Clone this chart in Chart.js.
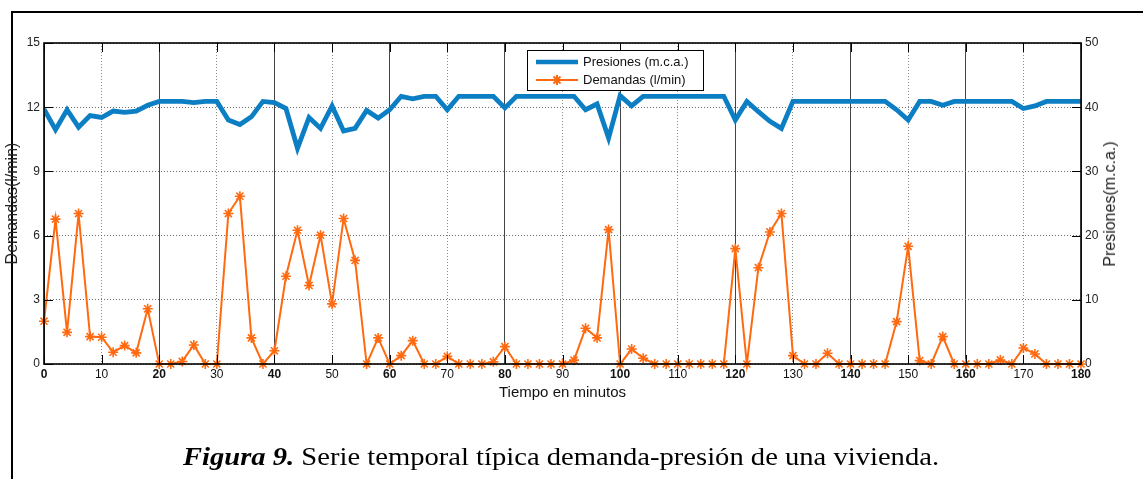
<!DOCTYPE html>
<html>
<head>
<meta charset="utf-8">
<script src="https://cdn.jsdelivr.net/npm/chart.js@4/dist/chart.umd.min.js"></script>
<style>
  body { margin: 0; background: #fff; }
  #hoja { position: relative; width: 1143px; height: 479px; overflow: hidden; }
  #marco { position: absolute; left: 11px; top: 11px; width: 1140px; height: 480px;
           border-left: 2px solid #000; border-top: 2px solid #000; }
  #grafico { position: absolute; left: 0; top: 0; }
  #tituloDer { position: absolute; left: 1110px; top: 204px; transform: translate(-50%, -50%) rotate(-90deg);
               font: 16px "Liberation Sans", Arial, sans-serif; color: #222; white-space: nowrap; }
  #pie { position: absolute; left: 0; top: 442px; width: 1122px; text-align: center;
         font: 26px "Liberation Serif", "Times New Roman", serif; color: #000; white-space: nowrap;
         transform: scaleX(1.1); transform-origin: 561px 0; }
</style>
</head>
<body>
<div id="hoja">
  <div id="marco"></div>
  <canvas id="grafico" width="1143" height="479"></canvas>
  <div id="tituloDer">Presiones(m.c.a.)</div>
  <div id="pie"><b><i>Figura 9.</i></b> Serie temporal típica demanda-presión de una vivienda.</div>
</div>
<script>
// minutos (eje x)
let minutos = [0, 2, 4, 6, 8, 10, 12, 14, 16, 18, 20, 22, 24, 26, 28, 30, 32, 34, 36, 38,
  40, 42, 44, 46, 48, 50, 52, 54, 56, 58, 60, 62, 64, 66, 68, 70, 72, 74, 76, 78,
  80, 82, 84, 86, 88, 90, 92, 94, 96, 98, 100, 102, 104, 106, 108, 110, 112, 114, 116, 118,
  120, 122, 124, 126, 128, 130, 132, 134, 136, 138, 140, 142, 144, 146, 148, 150, 152, 154, 156, 158,
  160, 162, 164, 166, 168, 170, 172, 174, 176, 178, 180]

// demandas en l/min (eje izquierdo)
let demandas = [2.0, 6.77, 1.48, 7.03, 1.28, 1.25, 0.55, 0.86, 0.52, 2.58, 0, 0, 0.12, 0.89, 0, 0, 7.03, 7.84, 1.22, 0,
  0.62, 4.1, 6.25, 3.67, 6.02, 2.81, 6.8, 4.84, 0, 1.22, 0, 0.39, 1.09, 0, 0, 0.36, 0, 0, 0, 0.1,
  0.81, 0, 0, 0, 0, 0, 0.18, 1.67, 1.22, 6.28, 0, 0.7, 0.27, 0, 0, 0, 0, 0, 0, 0,
  5.39, 0, 4.5, 6.17, 7.03, 0.39, 0, 0, 0.5, 0, 0, 0, 0, 0, 1.98, 5.5, 0.16, 0, 1.28, 0,
  0, 0, 0, 0.19, 0, 0.75, 0.47, 0, 0, 0, 0]

// presiones en m.c.a. (eje derecho)
let presiones = [39.7, 36.5, 39.6, 36.9, 38.7, 38.4, 39.4, 39.2, 39.4, 40.3, 40.9, 40.9, 40.9, 40.7, 40.9, 40.9, 38.0, 37.3, 38.5, 40.9,
  40.7, 39.8, 33.6, 38.4, 36.7, 40.2, 36.3, 36.7, 39.5, 38.3, 39.6, 41.7, 41.3, 41.7, 41.7, 39.6, 41.7, 41.7, 41.7, 41.7,
  39.9, 41.7, 41.7, 41.7, 41.7, 41.7, 41.7, 39.6, 40.5, 35.2, 41.8, 40.2, 41.7, 41.7, 41.7, 41.7, 41.7, 41.7, 41.7, 41.7,
  38.0, 40.9, 39.3, 37.8, 36.7, 40.9, 40.9, 40.9, 40.9, 40.9, 40.9, 40.9, 40.9, 40.9, 39.6, 38.0, 40.9, 40.9, 40.3, 40.9,
  40.9, 40.9, 40.9, 40.9, 40.9, 39.8, 40.2, 40.9, 40.9, 40.9, 40.9]

let ticksX = { min: 0, max: 180, paso: 10 }
let ticksIzq = { min: 0, max: 15, paso: 3 }
let ticksDer = { min: 0, max: 50, paso: 10 }

const azul = '#0C7EC4'
const naranja = '#FF6A10'
const fuente = '"Liberation Sans", Arial, sans-serif'

// marcas hacia dentro, caja del grafico y leyenda
const extras = {
  id: 'extras',
  afterDraw(chart) {
    const { ctx, chartArea: a, scales } = chart
    ctx.save()
    ctx.strokeStyle = '#000'
    ctx.lineWidth = 1
    const linea = (x1, y1, x2, y2) => { ctx.beginPath(); ctx.moveTo(x1, y1); ctx.lineTo(x2, y2); ctx.stroke() }
    scales.x.ticks.forEach(t => {
      const px = Math.round(scales.x.getPixelForValue(t.value)) + 0.5
      linea(px, a.bottom, px, a.bottom - 9)
      linea(px, a.top, px, a.top + 9)
    })
    scales.y.ticks.forEach(t => {
      const py = Math.round(scales.y.getPixelForValue(t.value)) + 0.5
      linea(a.left, py, a.left + 9, py)
    })
    scales.y1.ticks.forEach(t => {
      const py = Math.round(scales.y1.getPixelForValue(t.value)) + 0.5
      linea(a.right, py, a.right - 9, py)
    })
    ctx.lineWidth = 1.6
    ctx.strokeRect(a.left, a.top, a.right - a.left, a.bottom - a.top)

    // leyenda
    ctx.fillStyle = '#fff'
    ctx.fillRect(527, 50, 176, 40)
    ctx.lineWidth = 1
    ctx.strokeRect(527.5, 50.5, 176, 40)
    ctx.strokeStyle = azul
    ctx.lineWidth = 4.5
    linea(536, 62, 578, 62)
    ctx.strokeStyle = naranja
    ctx.lineWidth = 2
    linea(536, 80, 578, 80)
    linea(552, 80, 562, 80); linea(557, 75, 557, 85)
    linea(553.5, 76.5, 560.5, 83.5); linea(553.5, 83.5, 560.5, 76.5)
    ctx.fillStyle = '#111'
    ctx.font = '13px ' + fuente
    ctx.textBaseline = 'middle'
    ctx.fillText('Presiones (m.c.a.)', 583, 62)
    ctx.fillText('Demandas (l/min)', 583, 80)
    ctx.restore()
  }
}

const ctx = document.getElementById('grafico')
new Chart(ctx, {
  type: 'line',
  data: {
    datasets: [{
      label: 'Presiones (m.c.a.)',
      data: minutos.map((m, i) => ({ x: m, y: presiones[i] })),
      yAxisID: 'y1',
      borderColor: azul,
      borderWidth: 4.8,
      pointRadius: 0,
      tension: 0,
    }, {
      label: 'Demandas (l/min)',
      data: minutos.map((m, i) => ({ x: m, y: demandas[i] })),
      yAxisID: 'y',
      borderColor: naranja,
      backgroundColor: naranja,
      borderWidth: 2,
      pointStyle: 'star',
      pointRadius: 5,
      pointBorderWidth: 1.6,
      tension: 0,
      clip: false,
    }]
  },
  options: {
    responsive: false,
    animation: false,
    devicePixelRatio: 1,
    layout: { padding: { top: 43, left: 0, right: 0, bottom: 0 } },
    plugins: { legend: { display: false }, tooltip: { enabled: false } },
    scales: {
      x: {
        type: 'linear',
        min: ticksX.min, max: ticksX.max,
        afterFit: (s) => { s.height = 115 },
        ticks: {
          stepSize: ticksX.paso, autoSkip: false, maxRotation: 0, padding: 3, color: '#111',
          font: (c) => ({ family: fuente, size: 12, weight: c.tick && c.tick.value % 20 === 0 ? 'bold' : 'normal' }),
        },
        grid: {
          drawTicks: false, lineWidth: 1,
          color: (c) => c.tick && c.tick.value % 20 === 0 ? '#444' : '#8a8a8a',
        },
        border: { display: false, dash: (c) => c.tick && c.tick.value % 20 === 0 ? [] : [1, 2] },
        title: { display: true, text: 'Tiempo en minutos', color: '#111', font: { family: fuente, size: 15 }, padding: { top: 0, bottom: 77 } },
      },
      y: {
        position: 'left',
        min: ticksIzq.min, max: ticksIzq.max,
        afterFit: (s) => { s.width = 44 },
        ticks: { stepSize: ticksIzq.paso, padding: 4, color: '#222', font: { family: fuente, size: 12 } },
        grid: { drawTicks: false, color: '#6e6e6e', lineWidth: 1 },
        border: { display: false, dash: [1, 2] },
        title: { display: true, text: 'Demandas(l/min)', color: '#222', font: { family: fuente, size: 16 }, padding: { top: 3, bottom: 0 } },
      },
      y1: {
        position: 'right',
        min: ticksDer.min, max: ticksDer.max,
        afterFit: (s) => { s.width = 62 },
        ticks: { stepSize: ticksDer.paso, padding: 4, color: '#222', font: { family: fuente, size: 12 } },
        grid: { drawOnChartArea: false, drawTicks: false },
        border: { display: false },
      },
    },
  },
  plugins: [extras],
})
</script>
</body>
</html>
